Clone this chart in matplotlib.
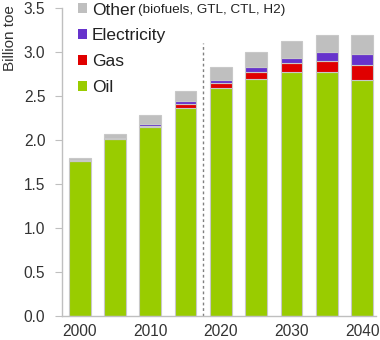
import matplotlib
matplotlib.use("Agg")
import matplotlib.pyplot as plt
from matplotlib.patches import Patch

plt.rcParams['font.family'] = ['Liberation Sans', 'DejaVu Sans']

years = [2000, 2005, 2010, 2015, 2020, 2025, 2030, 2035, 2040]
oil = [1.76, 2.01, 2.15, 2.37, 2.59, 2.70, 2.77, 2.78, 2.69]
gas = [0.005, 0.005, 0.015, 0.04, 0.06, 0.08, 0.11, 0.12, 0.16]
electricity = [0.01, 0.01, 0.015, 0.03, 0.04, 0.05, 0.06, 0.10, 0.13]
other = [0.025, 0.045, 0.11, 0.12, 0.14, 0.17, 0.19, 0.20, 0.22]
series_names = ["Oil", "Gas", "Electricity", "Other"]
colors = ["#99cc00", "#e00000", "#6633cc", "#bfbfbf"]
xticks = [2000, 2010, 2020, 2030, 2040]
yticks = [0.0, 0.5, 1.0, 1.5, 2.0, 2.5, 3.0, 3.5]

fig = plt.figure(figsize=(3.8, 3.4), dpi=100)
ax = fig.add_axes([0.163, 0.0706, 0.827, 0.905])

bottom = [0.0] * len(years)
for vals, col in zip([oil, gas, electricity, other], colors):
    ax.bar(years, vals, width=3.1, bottom=bottom, color=col,
           edgecolor="#c8c8c8", linewidth=0.8, zorder=2)
    bottom = [b + v for b, v in zip(bottom, vals)]

ax.plot([2017.5, 2017.5], [0, 3.1], linestyle=(0, (2, 2)), color="#808080",
        linewidth=1.0, zorder=1)

ax.set_xlim(1997.5, 2042.0)
ax.set_ylim(0, 3.5)
ax.set_xticks(xticks)
ax.set_xticklabels([str(x) for x in xticks])
ax.set_yticks(yticks)
ax.set_yticklabels([f"{y:.1f}" for y in yticks])
for s in ["top", "right"]:
    ax.spines[s].set_visible(False)
for s in ["left", "bottom"]:
    ax.spines[s].set_color("#bfbfbf")
    ax.spines[s].set_linewidth(1.0)
ax.tick_params(axis="y", length=5, color="#bfbfbf", labelsize=11.2, labelcolor="#333333", pad=7)
ax.tick_params(axis="x", length=0, labelsize=11.2, labelcolor="#333333", pad=6)

fig.text(0.008, 0.985, "Billion toe", rotation=90, va="top", ha="left",
         fontsize=11, color="#333333")

handles = [Patch(facecolor=c, edgecolor="none") for c in colors[::-1]]
leg = ax.legend(handles, series_names[::-1], loc="upper left",
                bbox_to_anchor=(0.013, 1.058), frameon=False, fontsize=12.5,
                handlelength=0.5, handleheight=0.5, handletextpad=0.3,
                labelspacing=0.62, borderaxespad=0.3, labelcolor="#222222")
fig.canvas.draw()
bb = leg.get_texts()[0].get_window_extent()
x0, y0 = fig.transFigure.inverted().transform((bb.x1, (bb.y0 + bb.y1) / 2))
fig.text(x0 + 0.008, y0, "(biofuels, GTL, CTL, H2)", fontsize=9.7,
         va="center", ha="left", color="#222222")

fig.savefig("out.png", dpi=100)
